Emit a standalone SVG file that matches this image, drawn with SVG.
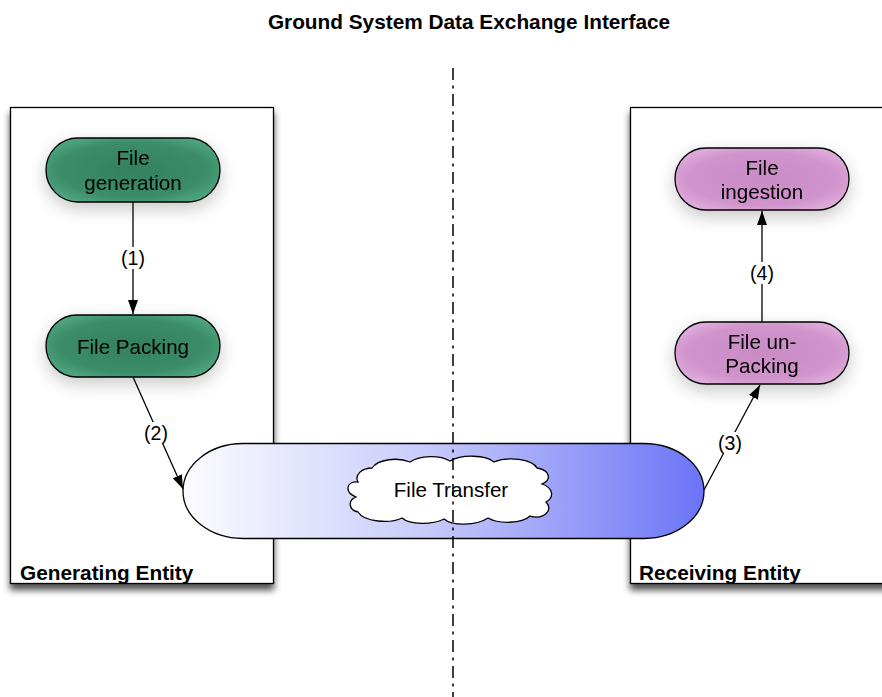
<svg xmlns="http://www.w3.org/2000/svg" width="882" height="697" viewBox="0 0 882 697">
  <defs>
    <style>
      .title { font-family: "Liberation Sans", Arial, sans-serif; font-weight: bold; font-size: 20.8px; fill: #000; }
      .group-label { font-family: "Liberation Sans", Arial, sans-serif; font-weight: bold; font-size: 20.8px; fill: #000; }
      .node-text { font-family: "Liberation Sans", Arial, sans-serif; font-size: 20.6px; fill: #000; text-anchor: middle; }
      .edge-label { font-family: "Liberation Sans", Arial, sans-serif; font-size: 19.5px; fill: #000; text-anchor: middle; }
      .entity { fill: #fff; stroke: #000; stroke-width: 1.3; }
      .node { stroke: #000; stroke-width: 1.3; }
      .edge { fill: none; stroke: #000; stroke-width: 1.3; }
      .axis { stroke: #000; stroke-width: 1.5; stroke-dasharray: 12 5.5 3 5.5; }
    </style>
    <linearGradient id="transferFill" x1="0" y1="0" x2="1" y2="0">
      <stop offset="0" stop-color="#fcfcff"/>
      <stop offset="0.45" stop-color="#cacdfb"/>
      <stop offset="1" stop-color="#6b74f6"/>
    </linearGradient>
    <radialGradient id="greenFill" cx="0.5" cy="0.5" r="0.6">
      <stop offset="0" stop-color="#33805f"/>
      <stop offset="0.7" stop-color="#3b8c69"/>
      <stop offset="1" stop-color="#52a883"/>
    </radialGradient>
    <radialGradient id="pinkFill" cx="0.5" cy="0.5" r="0.6">
      <stop offset="0" stop-color="#c98bc4"/>
      <stop offset="0.7" stop-color="#d093cb"/>
      <stop offset="1" stop-color="#e2aede"/>
    </radialGradient>
    <filter id="boxShadow" x="-10%" y="-10%" width="125%" height="125%">
      <feGaussianBlur in="SourceAlpha" stdDeviation="3.5"/>
      <feOffset dx="0" dy="6" result="b"/>
      <feComponentTransfer><feFuncA type="linear" slope="0.7"/></feComponentTransfer>
      <feMerge><feMergeNode/><feMergeNode in="SourceGraphic"/></feMerge>
    </filter>
    <filter id="nodeGlow" x="-30%" y="-60%" width="160%" height="230%">
      <feGaussianBlur in="SourceAlpha" stdDeviation="9"/>
      <feOffset dx="0" dy="6"/>
      <feComponentTransfer><feFuncA type="linear" slope="0.22"/></feComponentTransfer>
      <feMerge><feMergeNode/><feMergeNode in="SourceGraphic"/></feMerge>
    </filter>
    <marker id="arrow" viewBox="0 0 14 10" refX="14" refY="5" markerWidth="14" markerHeight="10" markerUnits="userSpaceOnUse" orient="auto">
      <path d="M0,0 L14,5 L0,10 Z" fill="#000"/>
    </marker>
  </defs>

  <rect width="882" height="697" fill="#fff"/>

  <text class="title" x="469" y="29" text-anchor="middle">Ground System Data Exchange Interface</text>

  <!-- entity containers -->
  <g id="generating-entity">
    <rect class="entity" x="10.5" y="107.5" width="263" height="476" filter="url(#boxShadow)"/>
    <text class="group-label" x="20" y="580">Generating Entity</text>
  </g>
  <g id="receiving-entity">
    <rect class="entity" x="630.5" y="107.5" width="270" height="476" filter="url(#boxShadow)"/>
    <text class="group-label" x="639" y="580">Receiving Entity</text>
  </g>

  <!-- process nodes -->
  <g id="file-generation" filter="url(#nodeGlow)">
    <rect class="node" x="46" y="138" width="174" height="64" rx="32" fill="url(#greenFill)"/>
    <text class="node-text" x="133" y="165">File</text>
    <text class="node-text" x="133" y="190">generation</text>
  </g>
  <g id="file-packing" filter="url(#nodeGlow)">
    <rect class="node" x="46" y="315" width="174" height="62" rx="31" fill="url(#greenFill)"/>
    <text class="node-text" x="133" y="354">File Packing</text>
  </g>
  <g id="file-ingestion" filter="url(#nodeGlow)">
    <rect class="node" x="675" y="148" width="174" height="62" rx="31" fill="url(#pinkFill)"/>
    <text class="node-text" x="762" y="175">File</text>
    <text class="node-text" x="762" y="199">ingestion</text>
  </g>
  <g id="file-unpacking" filter="url(#nodeGlow)">
    <rect class="node" x="675" y="322" width="174" height="62" rx="31" fill="url(#pinkFill)"/>
    <text class="node-text" x="762" y="349">File un-</text>
    <text class="node-text" x="762" y="373">Packing</text>
  </g>

  <!-- transfer channel -->
  <g id="file-transfer">
    <rect class="node" x="183" y="443.5" width="521" height="95" rx="60" ry="47.5" fill="url(#transferFill)"/>
    <path class="node" fill="#fff" d="M372,468 C378,459 398,457 410,462 C420,455 440,455 450,461 C462,454 486,455 494,462 C508,456 532,459 537,468 C550,470 552,480 542,484 C554,488 554,498 546,502 C554,510 544,520 530,516 C522,524 498,524 488,518 C476,526 452,526 444,519 C432,525 410,525 402,518 C390,524 364,522 358,512 C348,510 348,500 356,497 C344,492 346,481 358,482 C354,475 362,468 372,468 Z"/>
    <text class="node-text" x="451" y="497">File Transfer</text>
  </g>

  <!-- interface boundary -->
  <line class="axis" x1="453" y1="68" x2="453" y2="697"/>

  <!-- connectors -->
  <g id="connectors">
    <line class="edge" x1="133" y1="202" x2="133" y2="314" marker-end="url(#arrow)"/>
    <rect x="119" y="247" width="28" height="22" fill="#fff"/>
    <text class="edge-label" x="133" y="265">(1)</text>

    <line class="edge" x1="133" y1="377" x2="183" y2="489" marker-end="url(#arrow)"/>
    <rect x="142" y="422" width="28" height="22" fill="#fff"/>
    <text class="edge-label" x="156" y="440">(2)</text>

    <line class="edge" x1="704" y1="490" x2="760" y2="385" marker-end="url(#arrow)"/>
    <rect x="716" y="432" width="28" height="22" fill="#fff"/>
    <text class="edge-label" x="730" y="450">(3)</text>

    <line class="edge" x1="762" y1="322" x2="762" y2="211" marker-end="url(#arrow)"/>
    <rect x="748" y="262" width="28" height="22" fill="#fff"/>
    <text class="edge-label" x="762" y="280">(4)</text>
  </g>
</svg>
